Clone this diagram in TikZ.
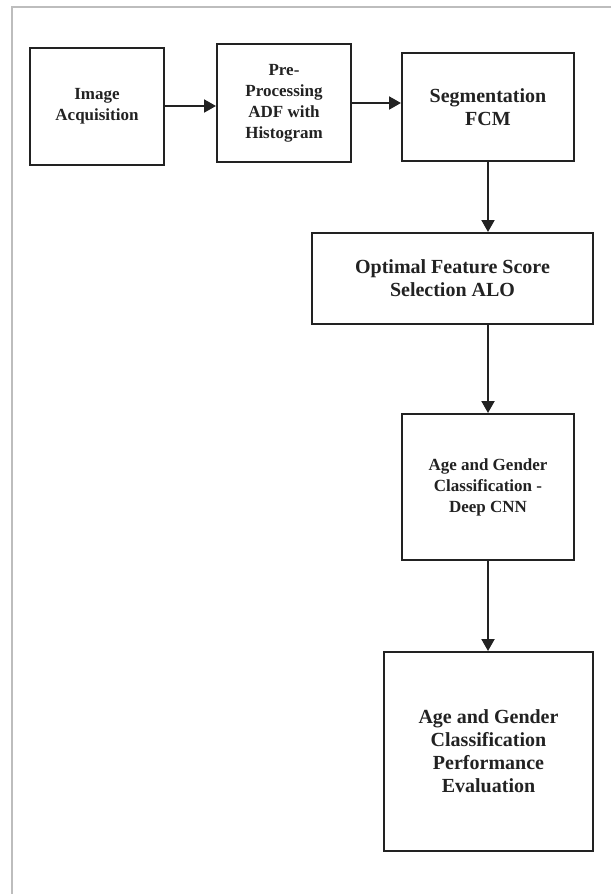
\documentclass[tikz,border=0pt]{standalone}
\usepackage{fontspec}
\setmainfont{Liberation Serif}
\usetikzlibrary{
	arrows.meta,
	positioning,
	calc,
}
\definecolor{Ink}{HTML}{222222}
\definecolor{FrameGray}{HTML}{BDBDBD}

\begin{document}
\begin{tikzpicture}[
		x=1pt, y=-1pt,
		box/.style = {rectangle, draw=Ink, line width=2pt, text=Ink,
			align=center, inner sep=2pt},
		mid/.style = {font=\bfseries\fontsize{17}{21}\selectfont},
		big/.style = {font=\bfseries\fontsize{20}{23}\selectfont},
		flow/.style = {draw=Ink, line width=2pt,
			-{Triangle[length=12pt, width=13pt]}},
	]
	\useasboundingbox (0,0) rectangle (611,894);
	% page frame (top and left only)
	\draw[FrameGray, line width=1.5pt] (611,7) -- (12,7) -- (12,894);
	% top row
	\node[box, mid, minimum width=134pt, minimum height=117pt]
		(acq) at (97,106) {Image\\Acquisition};
	\node[box, mid, minimum width=134pt, minimum height=118pt]
		(pre) at (284,103) {Pre-\\Processing\\ADF with\\Histogram};
	\node[box, big, minimum width=172pt, minimum height=108pt]
		(seg) at (488,107) {Segmentation\\FCM};
	% right column
	\node[box, big, minimum width=281pt, minimum height=91pt]
		(opt) at (452.5,278.5) {Optimal Feature Score\\Selection ALO};
	\node[box, mid, minimum width=172pt, minimum height=146pt]
		(cnn) at (488,487) {Age and Gender\\Classification -\\Deep CNN};
	\node[box, big, minimum width=209pt, minimum height=199pt]
		(eval) at (488.5,751.5) {Age and Gender\\Classification\\Performance\\Evaluation};
	% connectors
	\foreach \a/\b in {acq/pre, pre/seg}
		\draw[flow] (\a.east) -- (\a.east -| \b.west);
	\foreach \a/\b in {seg/opt, opt/cnn, cnn/eval}
		\draw[flow] (seg.south |- \a.south) -- (seg.south |- \b.north);
\end{tikzpicture}
\end{document}
